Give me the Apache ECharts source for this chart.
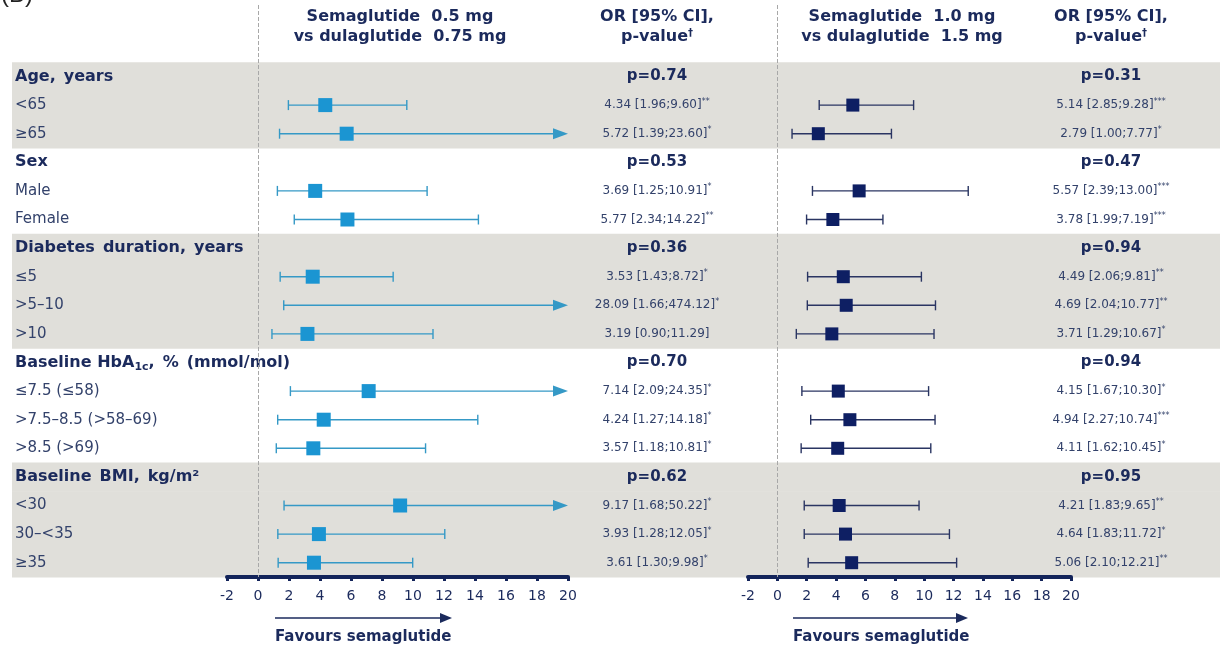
<!DOCTYPE html>
<html>
<head>
<meta charset="utf-8">
<script src="https://cdn.jsdelivr.net/npm/echarts@6/dist/echarts.min.js"></script>
<style>
  html, body { margin: 0; padding: 0; background: #fff; }
  #chart { width: 1228px; height: 648px; }
</style>
</head>
<body>
<div id="chart"></div>
<script>
// Subgroup rows (group headings and their subgroups)
const rowLabels = ['Age, years', '<65', '≥65', 'Sex', 'Male', 'Female',
  'Diabetes duration, years', '≤5', '>5–10', '>10',
  'Baseline HbA1c, % (mmol/mol)', '≤7.5 (≤58)', '>7.5–8.5 (>58–69)', '>8.5 (>69)',
  'Baseline BMI, kg/m²', '<30', '30–<35', '≥35'];
const headerRow = [1, 0, 0, 1, 0, 0, 1, 0, 0, 0, 1, 0, 0, 0, 1, 0, 0, 0];
const shadedRow = [1, 1, 1, 0, 0, 0, 1, 1, 1, 1, 0, 0, 0, 0, 1, 1, 1, 1];

// Interaction p-values per group
const pValue05 = ['p=0.74', 'p=0.53', 'p=0.36', 'p=0.70', 'p=0.62'];
const pValue10 = ['p=0.31', 'p=0.47', 'p=0.94', 'p=0.94', 'p=0.95'];

// Semaglutide 0.5 mg vs dulaglutide 0.75 mg
const or05  = [null, 4.34, 5.72, null, 3.69, 5.77, null, 3.53, 28.09, 3.19, null, 7.14, 4.24, 3.57, null, 9.17, 3.93, 3.61];
const lo05  = [null, 1.96, 1.39, null, 1.25, 2.34, null, 1.43, 1.66, 0.90, null, 2.09, 1.27, 1.18, null, 1.68, 1.28, 1.30];
const hi05  = [null, 9.60, 23.60, null, 10.91, 14.22, null, 8.72, 474.12, 11.29, null, 24.35, 14.18, 10.81, null, 50.22, 12.05, 9.98];
const sig05 = ['', '**', '*', '', '*', '**', '', '*', '*', '', '', '*', '*', '*', '', '*', '*', '*'];

// Semaglutide 1.0 mg vs dulaglutide 1.5 mg
const or10  = [null, 5.14, 2.79, null, 5.57, 3.78, null, 4.49, 4.69, 3.71, null, 4.15, 4.94, 4.11, null, 4.21, 4.64, 5.06];
const lo10  = [null, 2.85, 1.00, null, 2.39, 1.99, null, 2.06, 2.04, 1.29, null, 1.67, 2.27, 1.62, null, 1.83, 1.83, 2.10];
const hi10  = [null, 9.28, 7.77, null, 13.00, 7.19, null, 9.81, 10.77, 10.67, null, 10.30, 10.74, 10.45, null, 9.65, 11.72, 12.21];
const sig10 = ['', '***', '*', '', '***', '***', '', '**', '**', '*', '', '*', '***', '*', '', '**', '*', '**'];

// Odds-ratio axis
const axisMin = -2, axisMax = 20, axisStep = 2;

// Two blank rows on top hold the column headings
const HEAD = 2;
const cats = Array.from({ length: rowLabels.length + HEAD }, (_, i) => String(i));

const FONT = 'DejaVu Sans';
const NAVY = '#1b2a5c';
const TEXT = '#33426b';
const BLUE = '#1b95d2';
const BLUE_LINE = '#3599c6';
const DARK = '#0e1f63';
const DARK_LINE = '#2a3562';
const WIDE = '\u2002';   // wider word gap used in the bold headings

function groupIndex(r) {
  let g = -1;
  for (let i = 0; i <= r; i++) if (headerRow[i]) g++;
  return g;
}

function rowLabel(v, idx) {
  const r = idx - HEAD;
  if (r < 0) return '';
  const s = rowLabels[r];
  if (!headerRow[r]) return '{rg|' + s + '}';
  if (s.indexOf('HbA1c') >= 0) return '{hd|Baseline HbA}{hsub|1c}{hd|,' + WIDE + '%' + WIDE + '(mmol/mol)}';
  return '{hd|' + s.split(' ').join(WIDE) + '}';
}

function orLabel(or, lo, hi, sig, pv) {
  return function (v, idx) {
    const r = idx - HEAD;
    if (r < 0) return '';
    if (headerRow[r]) return '{p|' + pv[groupIndex(r)] + '}';
    return '{v|' + or[r].toFixed(2) + ' [' + lo[r].toFixed(2) + ';' + hi[r].toFixed(2) + ']}' +
      (sig[r] ? '{s|' + sig[r] + '}' : '');
  };
}

const orRich = {
  p: { fontFamily: FONT, fontWeight: 'bold', fontSize: 15, color: NAVY },
  v: { fontFamily: FONT, fontSize: 12, color: TEXT },
  s: { fontFamily: FONT, fontSize: 8, color: TEXT, padding: [0, 0, 7, 0] }
};

function ciRenderer(color, capH, headW, headH) {
  return function (params, api) {
    const lo = api.value(0), hi = api.value(1), row = api.value(2);
    const a = api.coord([Math.max(lo, axisMin), row]);
    const b = api.coord([Math.min(hi, axisMax), row]);
    const st = { stroke: color, lineWidth: 1.4 };
    const kids = [
      { type: 'line', shape: { x1: a[0], y1: a[1], x2: hi > axisMax ? b[0] - headW + 2 : b[0], y2: b[1] }, style: st },
      { type: 'line', shape: { x1: a[0], y1: a[1] - capH / 2, x2: a[0], y2: a[1] + capH / 2 }, style: st }
    ];
    if (hi > axisMax) {
      kids.push({ type: 'polygon', shape: { points: [[b[0], b[1]], [b[0] - headW, b[1] - headH / 2], [b[0] - headW, b[1] + headH / 2]] }, style: { fill: color } });
    } else {
      kids.push({ type: 'line', shape: { x1: b[0], y1: b[1] - capH / 2, x2: b[0], y2: b[1] + capH / 2 }, style: st });
    }
    return { type: 'group', children: kids };
  };
}

function ciData(lo, hi) {
  const out = [];
  lo.forEach((l, r) => { if (l !== null) out.push([l, hi[r], r + HEAD]); });
  return out;
}
function pointData(or) {
  const out = [];
  or.forEach((o, r) => { if (o !== null && o <= axisMax) out.push([o, r + HEAD]); });
  return out;
}

const valueAxis = (gi) => ({
  type: 'value', gridIndex: gi, min: axisMin, max: axisMax, interval: axisStep,
  splitLine: { show: false },
  axisLine: { show: true, lineStyle: { color: '#13245a', width: 4 } },
  axisTick: { show: true, length: 4, lineStyle: { color: '#13245a', width: 3 } },
  axisLabel: { fontFamily: FONT, fontSize: 14, color: NAVY, margin: 12 }
});
const catAxis = (gi, pos, extra) => Object.assign({
  type: 'category', gridIndex: gi, data: cats, inverse: true, position: pos,
  axisLine: { show: false }, axisTick: { show: false }, splitLine: { show: false }
}, extra);

const zeroLine = {
  silent: true, symbol: 'none', label: { show: false },
  lineStyle: { color: '#a8a8a8', type: 'dashed', width: 1 },
  data: [{ xAxis: 0 }]
};

const headRich = {
  a: { font: 'bold 16px "DejaVu Sans"', fill: NAVY },
  d: { font: 'bold 10px "DejaVu Sans"', fill: NAVY, padding: [0, 0, 8, 0] }
};

const chart = echarts.init(document.getElementById('chart'), null, { renderer: 'canvas' });

chart.setOption({
  animation: false,
  backgroundColor: '#ffffff',
  grid: [
    { left: 227, width: 341, top: 5, height: 572 },
    { left: 748, width: 323, top: 5, height: 572 },
    { left: 12, width: 1208, top: 5, height: 572 }
  ],
  xAxis: [
    valueAxis(0),
    valueAxis(1),
    { type: 'value', gridIndex: 2, min: 0, max: 1, show: false }
  ],
  yAxis: [
    catAxis(0, 'left', {
      axisLabel: {
        interval: 0, align: 'left', margin: 212, formatter: rowLabel,
        rich: {
          hd: { fontFamily: FONT, fontWeight: 'bold', fontSize: 16, color: NAVY },
          hsub: { fontFamily: FONT, fontWeight: 'bold', fontSize: 11, color: NAVY, padding: [9, 0, 0, 0] },
          rg: { fontFamily: FONT, fontSize: 15, color: TEXT }
        }
      }
    }),
    catAxis(0, 'right', {
      axisLabel: { interval: 0, align: 'center', margin: 89, formatter: orLabel(or05, lo05, hi05, sig05, pValue05), rich: orRich }
    }),
    catAxis(1, 'left', { axisLabel: { show: false } }),
    catAxis(1, 'right', {
      axisLabel: { interval: 0, align: 'center', margin: 40, formatter: orLabel(or10, lo10, hi10, sig10, pValue10), rich: orRich }
    }),
    catAxis(2, 'left', { show: false })
  ],
  series: [
    {
      // shaded group bands
      type: 'custom', xAxisIndex: 2, yAxisIndex: 4, z: 0, silent: true,
      data: shadedRow.map((s, r) => s ? [r + HEAD] : null).filter(d => d),
      encode: { y: 0 },
      renderItem: function (params, api) {
        const row = api.value(0);
        const p = api.coord([0, row]);
        const h = api.size([0, 1])[1];
        return {
          type: 'rect',
          shape: { x: params.coordSys.x, y: p[1] - h / 2, width: params.coordSys.width, height: h + 0.5 },
          style: { fill: '#e0dfda' }
        };
      }
    },
    {
      type: 'custom', xAxisIndex: 0, yAxisIndex: 0, z: 3, silent: true,
      data: ciData(lo05, hi05), encode: { x: [0, 1], y: 2 },
      renderItem: ciRenderer(BLUE_LINE, 10, 15, 11)
    },
    {
      type: 'scatter', xAxisIndex: 0, yAxisIndex: 0, z: 4, silent: true,
      symbol: 'rect', symbolSize: 14, itemStyle: { color: BLUE, opacity: 1 },
      data: pointData(or05), markLine: zeroLine
    },
    {
      type: 'custom', xAxisIndex: 1, yAxisIndex: 2, z: 3, silent: true,
      data: ciData(lo10, hi10), encode: { x: [0, 1], y: 2 },
      renderItem: ciRenderer(DARK_LINE, 10, 15, 11)
    },
    {
      type: 'scatter', xAxisIndex: 1, yAxisIndex: 2, z: 4, silent: true,
      symbol: 'rect', symbolSize: 13, itemStyle: { color: DARK, opacity: 1 },
      data: pointData(or10), markLine: zeroLine
    }
  ],
  graphic: [
    { type: 'text', left: 1, top: -17, style: { text: '(B)', font: '24px "Liberation Sans"', fill: '#222' } },
    { type: 'text', x: 400, y: 27, style: { text: 'Semaglutide  0.5 mg\nvs dulaglutide  0.75 mg', font: 'bold 16px "DejaVu Sans"', fill: NAVY, align: 'center', verticalAlign: 'middle', lineHeight: 20 } },
    { type: 'text', x: 902, y: 27, style: { text: 'Semaglutide  1.0 mg\nvs dulaglutide  1.5 mg', font: 'bold 16px "DejaVu Sans"', fill: NAVY, align: 'center', verticalAlign: 'middle', lineHeight: 20 } },
    { type: 'text', x: 657, y: 27, style: { text: '{a|OR [95% CI],}\n{a|p-value}{d|†}', align: 'center', verticalAlign: 'middle', lineHeight: 20, rich: headRich } },
    { type: 'text', x: 1111, y: 27, style: { text: '{a|OR [95% CI],}\n{a|p-value}{d|†}', align: 'center', verticalAlign: 'middle', lineHeight: 20, rich: headRich } },
    // direction-of-benefit arrows
    { type: 'line', shape: { x1: 275, y1: 618, x2: 442, y2: 618 }, style: { stroke: NAVY, lineWidth: 1.5 } },
    { type: 'polygon', shape: { points: [[452, 618], [440, 613], [440, 623]] }, style: { fill: NAVY } },
    { type: 'text', x: 275, y: 637, style: { text: 'Favours semaglutide', font: 'bold 15px "DejaVu Sans"', fill: NAVY, verticalAlign: 'middle' } },
    { type: 'line', shape: { x1: 793, y1: 618, x2: 958, y2: 618 }, style: { stroke: NAVY, lineWidth: 1.5 } },
    { type: 'polygon', shape: { points: [[968, 618], [956, 613], [956, 623]] }, style: { fill: NAVY } },
    { type: 'text', x: 793, y: 637, style: { text: 'Favours semaglutide', font: 'bold 15px "DejaVu Sans"', fill: NAVY, verticalAlign: 'middle' } }
  ]
});
</script>
</body>
</html>
